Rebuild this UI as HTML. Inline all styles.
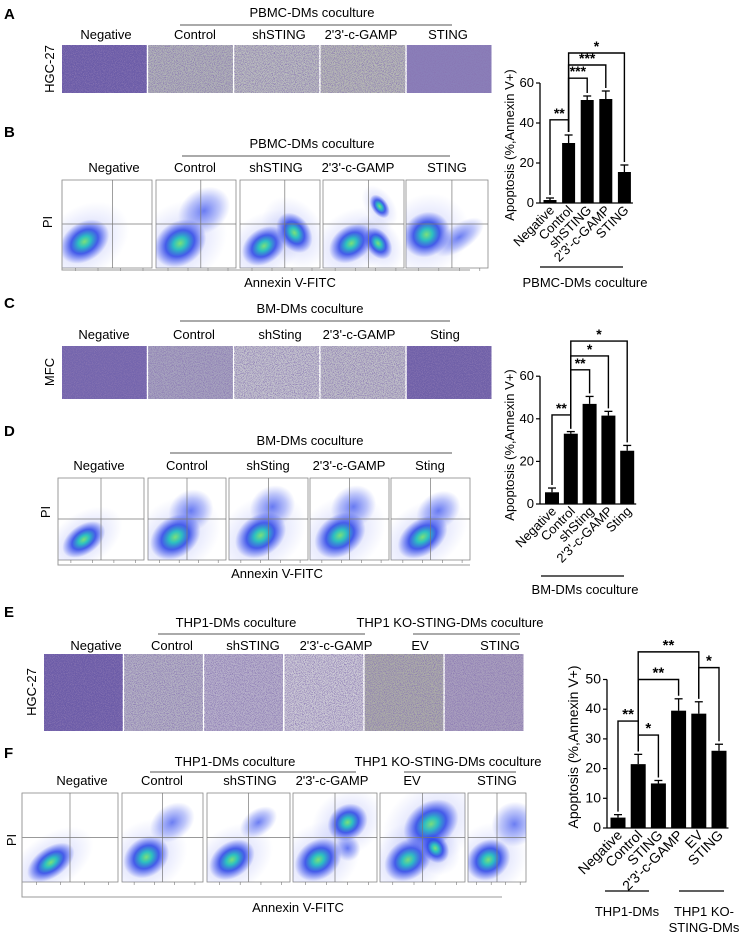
<!DOCTYPE html>
<html><head><meta charset="utf-8"><style>
html,body{margin:0;padding:0;background:#fff}
svg{display:block;font-family:"Liberation Sans",Arial,sans-serif}
</style></head><body>
<svg id="fig" width="745" height="942" viewBox="0 0 745 942" xmlns="http://www.w3.org/2000/svg">
<defs>
<filter id="speck" x="0" y="0" width="100%" height="100%">
<feTurbulence type="fractalNoise" baseFrequency="1.1" numOctaves="2" seed="3"/>
<feColorMatrix values="0 0 0 0 0.25  0 0 0 0 0.18  0 0 0 0 0.45  0 0 0 5 -2.3"/>
</filter>
<radialGradient id="gb"><stop offset="0" stop-color="#7be07a"/><stop offset="0.25" stop-color="#2dc0c0"/><stop offset="0.55" stop-color="#2a44e6" stop-opacity="0.85"/><stop offset="1" stop-color="#3348f0" stop-opacity="0"/></radialGradient>
<radialGradient id="gs"><stop offset="0" stop-color="#3a52ee" stop-opacity="0.75"/><stop offset="0.6" stop-color="#4a60f0" stop-opacity="0.35"/><stop offset="1" stop-color="#6070f0" stop-opacity="0"/></radialGradient>
<radialGradient id="gh"><stop offset="0" stop-color="#5060f0" stop-opacity="0.3"/><stop offset="1" stop-color="#6070f0" stop-opacity="0"/></radialGradient>
</defs>
<g font-size="12" fill="#000">
<text x="4" y="19" font-size="15" font-weight="bold">A</text>
<text x="4" y="137" font-size="15" font-weight="bold">B</text>
<text x="4" y="308" font-size="15" font-weight="bold">C</text>
<text x="4" y="436" font-size="15" font-weight="bold">D</text>
<text x="4" y="617" font-size="15" font-weight="bold">E</text>
<text x="4" y="758" font-size="15" font-weight="bold">F</text>
</g>
<g id="imgs"></g>
<g id="flows"></g>
<g id="charts"></g>
</svg>
<script>
// ---------- chart data ----------
const catsA = ["Negative","Control","shSTING","2'3'-c-GAMP","STING"];
const valsA = [1.5, 30, 51.5, 52, 15.5];
const errsA = [1, 4, 2, 4, 3.5];
const sigA = [[0,1,41.6,"**"],[1,2,62.4,"***"],[1,3,69,"***"],[1,4,75,"*"]];
const ticksA = [0,20,40,60];

const catsC = ["Negative","Control","shSting","2'3'-c-GAMP","Sting"];
const valsC = [5.5, 33, 47, 41.5, 25];
const errsC = [2, 1, 3.5, 2, 2.5];
const sigC = [[0,1,41.8,"**"],[1,2,63,"**"],[1,3,69.5,"*"],[1,4,76.5,"*"]];
const ticksC = [0,20,40,60];

const catsE = ["Negative","Control","STING","2'3'-c-GAMP","EV","STING"];
const valsE = [3.5, 21.5, 15, 39.5, 38.5, 26];
const errsE = [1, 3.3, 1, 4, 4, 2.2];
const sigE = [[0,1,36,"**"],[1,2,31.3,"*"],[1,3,50,"**"],[1,4,59.3,"**"],[4,5,54,"*"]];
const ticksE = [0,10,20,30,40,50];

const NS="http://www.w3.org/2000/svg";
const fig=document.getElementById('fig');
function el(tag,attrs,parent,txt){const e=document.createElementNS(NS,tag);for(const k in attrs)e.setAttribute(k,attrs[k]);if(txt!==undefined)e.textContent=txt;(parent||fig).appendChild(e);return e;}

// ---------- bar charts ----------
function chart(g,cats,vals,errs,sig,ticks,o){
  const yv=v=>o.y0-v*o.k;
  const xc=i=>o.x0+o.first+i*o.step;
  const L=el('line',{x1:o.x0,y1:o.y0,x2:o.x0,y2:yv(ticks[ticks.length-1]),stroke:'#000','stroke-width':1.3},g);
  
  
  const xa=el('line',{x1:o.x0,y1:o.y0,x2:xc(cats.length-1)+o.bw/2+2,y2:o.y0,stroke:'#000','stroke-width':1.3},g);
  
  
  ticks.forEach(t=>{
    el('line',{x1:o.x0-4,y1:yv(t),x2:o.x0,y2:yv(t),stroke:'#000','stroke-width':1.2},g);
    const tl=el('text',{x:o.x0-6,y:yv(t)+4,'text-anchor':'end','font-size':o.fs},g,String(t));
    
    
  });
  const yt=el('text',{transform:`translate(${o.tx},${o.ty}) rotate(-90)`,'text-anchor':'middle','font-size':o.fs},g,'Apoptosis (%,Annexin V+)');
  
  
  cats.forEach((c,i)=>{
    const x=xc(i),top=yv(vals[i]);
    const b=el('rect',{x:x-o.bw/2,y:top,width:o.bw,height:o.y0-top,fill:'#000'},g);
    
    
    const et=yv(vals[i]+errs[i]);
    el('line',{x1:x,y1:top,x2:x,y2:et,stroke:'#000','stroke-width':1.3},g);
    el('line',{x1:x-4,y1:et,x2:x+4,y2:et,stroke:'#000','stroke-width':1.3},g);
    const lb=el('text',{transform:`translate(${x+5},${o.y0+8}) rotate(-45)`,'text-anchor':'end','font-size':o.fs},g,c);
    
    
  });
  sig.forEach(s=>{
    const [i,j,lv,lab]=s;const yl=yv(lv);
    const a=xc(i),b=xc(j);
    const ya=yv(vals[i]+errs[i])-3,yb=yv(vals[j]+errs[j])-3;
    el('path',{d:`M${a},${ya}V${yl}H${b}V${yb}`,fill:'none',stroke:'#000','stroke-width':1.4},g);
    const st=el('text',{x:(a+b)/2,y:yl-2,'text-anchor':'middle','font-size':o.fs+1,'font-weight':'bold'},g,lab);
    
    
  });
}
const charts=document.getElementById('charts');
const gA=el('g',{},charts);


chart(gA,catsA,valsA,errsA,sigA,ticksA,{x0:540,y0:203,k:2.0,first:10,step:18.6,bw:13,fs:13,tx:514,ty:145});
const gC=el('g',{},charts);


chart(gC,catsC,valsC,errsC,sigC,ticksC,{x0:540,y0:504,k:2.13,first:12,step:18.8,bw:14,fs:13,tx:514,ty:445});
const gE=el('g',{},charts);


chart(gE,catsE,valsE,errsE,sigE,ticksE,{x0:607,y0:828,k:2.97,first:11,step:20.2,bw:15,fs:14,tx:578,ty:747});

function underline(x1,x2,y,t,ty,cx,name){
  el('line',{x1:x1,y1:y,x2:x2,y2:y,stroke:'#000','stroke-width':1.2});
  if(t){const e=el('text',{x:cx,y:ty,'text-anchor':'middle','font-size':13},fig,t);
  
  }
}
underline(540,623,267,'PBMC-DMs coculture',287,585,'group-label-pbmc');
underline(541,624,576,'BM-DMs coculture',594,585,'group-label-bm');
underline(605,649,891,'THP1-DMs',916,627,'group-label-thp1');
underline(679,724,891,'THP1 KO-',916,704,'group-label-thp1-ko');
const sd=el('text',{x:704,y:932,'text-anchor':'middle','font-size':13},fig,'STING-DMs');



// ---------- headers & column labels ----------
function header(t,cx,ty,x1,x2,ly){
  const e=el('text',{x:cx,y:ty,'text-anchor':'middle','font-size':13},fig,t);
  
  
  el('line',{x1:x1,y1:ly,x2:x2,y2:ly,stroke:'#555','stroke-width':1});
}
function cols(list,y){list.forEach(([t,x])=>{const e=el('text',{x:x,y:y,'text-anchor':'middle','font-size':13},fig,t);
  
  });}
header('PBMC-DMs coculture',312,17,180,452,25);
cols([['Negative',106],['Control',195],['shSTING',279],["2'3'-c-GAMP",361],['STING',448]],39);
header('PBMC-DMs coculture',312,148,182,450,156);
cols([['Negative',114],['Control',195],['shSTING',276],["2'3'-c-GAMP",358],['STING',447]],172);
header('BM-DMs coculture',310,313,180,450,321);
cols([['Negative',104],['Control',194],['shSting',280],["2'3'-c-GAMP",359],['Sting',445]],339);
header('BM-DMs coculture',310,445,170,452,453);
cols([['Negative',99],['Control',187],['shSting',268],["2'3'-c-GAMP",349],['Sting',430]],470);
header('THP1-DMs coculture',236,627,158,365,634);
el('text',{x:450,y:627,'text-anchor':'middle','font-size':13},fig,'THP1 KO-STING-DMs coculture');
el('line',{x1:413,y1:634,x2:520,y2:634,stroke:'#555','stroke-width':1});
cols([['Negative',96],['Control',172],['shSTING',253],["2'3'-c-GAMP",336],['EV',420],['STING',500]],650);
header('THP1-DMs coculture',235,766,150,356,772);
el('text',{x:448,y:766,'text-anchor':'middle','font-size':13},fig,'THP1 KO-STING-DMs coculture');
el('line',{x1:404,y1:772,x2:516,y2:772,stroke:'#555','stroke-width':1});
cols([['Negative',82],['Control',162],['shSTING',250],["2'3'-c-GAMP",332],['EV',412],['STING',497]],785);

// ---------- stained images ----------
const imgs=document.getElementById('imgs');
function row(x0,x1,y,h,colors,label,ly){
  const w=(x1-x0)/colors.length;
  colors.forEach((c,i)=>{
    const r=el('rect',{x:x0+i*w,y:y,width:w-1.5,height:h,fill:c},imgs);
    
    
    el('rect',{x:x0+i*w,y:y,width:w-1.5,height:h,fill:'#000',filter:'url(#speck)',opacity:0.8},imgs);
  });
  const t=el('text',{transform:`translate(${x0-8},${ly}) rotate(-90)`,'text-anchor':'middle','font-size':13},imgs,label);
  
  
}
row(62,493,45,48,['#6b5ca8','#b0b2b6','#b9bbbd','#b6b8b4','#8a7fb9'],'HGC-27',69);
row(62,493,346,53,['#7465ad','#a6a2be','#c3c2cd','#bebdc7','#6f60a8'],'MFC',372);
row(44,525,654,77,['#6c5ca8','#b3b0c3','#b6afca','#cbc8d5','#ababa8','#a89ebd'],'HGC-27',692);

// ---------- flow plots ----------
const flows=document.getElementById('flows');
function flowRow(xs,y,h,qx,qy,blobs,axLeft,axRight,axBottom,annX,annY,piX,piY){
  xs.forEach((xx,i)=>{
    const [x,w]=xx;
    const g=el('g',{},flows);
    
    
    el('rect',{x:x,y:y,width:w,height:h,fill:'#fff',stroke:'#888','stroke-width':0.8},g);
    const sv=el('svg',{x:x,y:y,width:w,height:h},g);
    blobs[i].forEach(b=>{
      const [fx,fy,rx,ry,t]=b;
      if(t) el('ellipse',{cx:fx*w,cy:fy*h,rx:rx*w*1.8,ry:ry*h*1.8,fill:'url(#gh)',transform:`rotate(-35 ${fx*w} ${fy*h})`},sv);
      el('ellipse',{cx:fx*w,cy:fy*h,rx:rx*w,ry:ry*h,fill:t?'url(#gb)':'url(#gs)',transform:`rotate(-35 ${fx*w} ${fy*h})`},sv);
    });
    el('line',{x1:x+qx*w,y1:y,x2:x+qx*w,y2:y+h,stroke:'#777','stroke-width':0.7},g);
    el('line',{x1:x,y1:y+qy*h,x2:x+w,y2:y+qy*h,stroke:'#777','stroke-width':0.7},g);
    for(let k=0;k<4;k++)el('line',{x1:x+w*(0.15+k*0.25),y1:y+h,x2:x+w*(0.15+k*0.25),y2:y+h+3,stroke:'#777','stroke-width':0.6},g);
  });
  el('path',{d:`M${axLeft},${y}V${axBottom}H${axRight}`,fill:'none',stroke:'#999','stroke-width':1},flows);
  const a=el('text',{x:annX,y:annY,'text-anchor':'middle','font-size':13},flows,'Annexin V-FITC');
  
  
  const p=el('text',{transform:`translate(${piX},${piY}) rotate(-90)`,'text-anchor':'middle','font-size':13},flows,'PI');
  
  
}
flowRow([[62,90],[156,80],[240,80],[323,81],[406,82]],180,88,0.56,0.5,[
 [[0.25,0.7,0.3,0.22,1]],
 [[0.3,0.72,0.35,0.25,1],[0.6,0.35,0.35,0.25,0]],
 [[0.3,0.75,0.3,0.2,1],[0.68,0.6,0.2,0.25,1]],
 [[0.35,0.72,0.3,0.2,1],[0.68,0.72,0.15,0.2,1],[0.7,0.3,0.1,0.15,1]],
 [[0.25,0.62,0.3,0.25,1],[0.65,0.65,0.35,0.15,0]]],
 62,470,270,290,287,52,222);
flowRow([[58,86],[148,78],[229,79],[310,79],[391,79]],478,82,0.5,0.5,[
 [[0.3,0.75,0.28,0.18,1]],
 [[0.35,0.72,0.35,0.25,1],[0.55,0.4,0.3,0.25,0]],
 [[0.4,0.7,0.35,0.25,1],[0.55,0.35,0.3,0.25,0]],
 [[0.38,0.7,0.35,0.25,1],[0.55,0.35,0.3,0.25,0]],
 [[0.4,0.72,0.35,0.22,1],[0.6,0.4,0.3,0.22,0]]],
 58,470,565,277,578,50,512);
flowRow([[22,96],[122,81],[207,83],[293,84],[380,85],[468,58]],793,89,0.5,0.5,[
 [[0.3,0.78,0.28,0.17,1]],
 [[0.3,0.72,0.3,0.22,1],[0.62,0.33,0.3,0.2,0]],
 [[0.3,0.75,0.3,0.2,1],[0.62,0.33,0.25,0.15,0]],
 [[0.3,0.75,0.3,0.22,1],[0.65,0.33,0.25,0.2,1],[0.65,0.62,0.15,0.15,0]],
 [[0.33,0.75,0.3,0.22,1],[0.6,0.35,0.35,0.25,1],[0.65,0.62,0.15,0.18,1]],
 [[0.35,0.75,0.4,0.22,1],[0.8,0.35,0.4,0.25,0]]],
 22,502,897,298,912,16,840);
</script>
</body></html>
